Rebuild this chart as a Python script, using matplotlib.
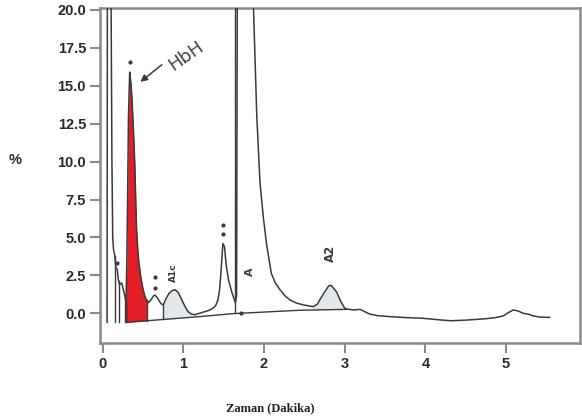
import numpy as np
import matplotlib
matplotlib.use("Agg")
import matplotlib.pyplot as plt

# chromatogram trace (time in minutes, signal in %); values > 20 run off the top
trace_x = [0.055, 0.06, 0.10, 0.105, 0.115, 0.125, 0.135, 0.15, 0.165, 0.18,
           0.195, 0.21, 0.235, 0.255, 0.276, 0.29, 0.30, 0.31, 0.32, 0.335,
           0.35, 0.365, 0.38, 0.39, 0.40, 0.41, 0.42, 0.435, 0.45, 0.475,
           0.50, 0.525, 0.545, 0.57, 0.60, 0.63, 0.65, 0.68, 0.72, 0.75,
           0.78, 0.82, 0.86, 0.90, 0.94, 0.98, 1.02, 1.06, 1.10, 1.14,
           1.20, 1.26, 1.32, 1.37, 1.40, 1.43, 1.45, 1.47, 1.49, 1.51,
           1.53, 1.56, 1.60, 1.645, 1.66, 1.672, 1.86, 1.87, 1.91, 1.95,
           1.99, 2.03, 2.09, 2.14, 2.20, 2.26, 2.32, 2.40, 2.49, 2.61,
           2.66, 2.69, 2.75, 2.80, 2.83, 2.87, 2.90, 2.95, 3.00, 3.05,
           3.12, 3.19, 3.25, 3.31, 3.40, 3.56, 3.75, 3.97, 4.15, 4.31,
           4.50, 4.72, 4.85, 4.96, 5.03, 5.09, 5.15, 5.21, 5.27, 5.34,
           5.42, 5.54]
trace_y = [-0.6, 30, 30, 20, 10, 5.0, 4.2, 3.8, 3.0, 2.9,
           2.2, 1.9, 2.0, 1.6, 1.1, 0.8, 3.6, 8.0, 13.0, 15.9,
           15.2, 14.0, 12.2, 11.0, 9.5, 7.5, 5.6, 4.2, 3.3, 2.3,
           1.6, 1.1, 0.85, 0.7, 0.9, 1.15, 1.2, 1.0, 0.65, 0.55,
           0.9, 1.3, 1.5, 1.55, 1.35, 0.9, 0.45, 0.1, -0.05, -0.1,
           0.0, 0.1, 0.2, 0.35, 0.5, 0.9, 1.6, 3.0, 4.6, 4.4,
           3.2, 2.2, 1.4, 0.7, 1.2, 30, 30, 20, 13, 8.6,
           6.4, 4.6, 2.64, 2.0, 1.54, 1.15, 0.88, 0.68, 0.55, 0.44,
           0.6, 0.88, 1.4, 1.8, 1.85, 1.6, 1.4, 0.8, 0.33, 0.26,
           0.22, 0.26, 0.1, -0.05, -0.15, -0.22, -0.28, -0.33, -0.42, -0.49,
           -0.45, -0.37, -0.3, -0.18, 0.05, 0.22, 0.15, 0.0, -0.05, -0.18,
           -0.25, -0.27]

# integration baseline
base_x = [0.05, 0.29, 1.20, 1.62, 2.44, 3.02]
base_y = [-0.6, -0.6, -0.22, -0.02, 0.2, 0.26]

# peak drop lines and shaded peak windows
drop_x = [0.15, 0.20, 0.276, 0.29, 0.545, 0.75]
hbh_window = (0.29, 0.545)
grey_windows = [(0.75, 1.10), (2.60, 3.02)]

# peak marks (small dots printed above peaks)
mark_x = [0.335, 0.18, 0.65, 0.65, 1.49, 1.49, 1.72]
mark_y = [16.6, 3.3, 2.4, 1.7, 5.8, 5.2, 0.0]

x_ticks = [0, 1, 2, 3, 4, 5]
y_ticks = [0.0, 2.5, 5.0, 7.5, 10.0, 12.5, 15.0, 17.5, 20.0]

line_c = "#3a3a3a"
spine_c = "#8a8a8a"

fig = plt.figure(figsize=(5.82, 4.18), dpi=100)
ax = fig.add_axes([0.1718, 0.1801, 0.8247, 0.8007])

xx = np.linspace(0, 5.6, 4000)
tr = np.interp(xx, trace_x, trace_y)
bl = np.interp(xx, base_x, base_y)

m = (xx >= hbh_window[0]) & (xx <= hbh_window[1])
ax.fill_between(xx[m], bl[m], tr[m], color="#e41e26", lw=0, zorder=1)
for a, b in grey_windows:
    m = (xx >= a) & (xx <= b)
    ax.fill_between(xx[m], bl[m], tr[m], color="#e2e7ec", lw=0, zorder=1)

ax.plot(trace_x, trace_y, color=line_c, lw=1.1, zorder=3)
ax.plot(base_x[1:], base_y[1:], color=line_c, lw=1.0, zorder=3)
for d in drop_x:
    ax.plot([d, d], [np.interp(d, base_x, base_y), np.interp(d, trace_x, trace_y)],
            color=line_c, lw=1.0, zorder=3)
# event marker at start of the A peak
ax.plot([1.645, 1.645], [np.interp(1.645, base_x, base_y), 30], color=line_c, lw=1.0, zorder=3)
ax.plot(mark_x, mark_y, ls="none", marker="o", ms=2, color=line_c, zorder=4)

ax.text(0.875, 2.7, "A1c", rotation=90, fontsize=6.5, ha="center", va="center",
        color=line_c, fontweight="bold")
ax.text(1.83, 2.75, "A", rotation=90, fontsize=8, ha="center", va="center",
        color=line_c, fontweight="bold")
ax.text(2.82, 3.95, "A2", rotation=90, fontsize=8.5, ha="center", va="center",
        color=line_c, fontweight="bold")
ax.text(1.03, 16.95, "HbH", rotation=35, fontsize=13, ha="center", va="center",
        color="#444444")
ax.annotate("", xy=(0.44, 15.15), xytext=(0.76, 16.5),
            arrowprops=dict(arrowstyle="-|>", color=line_c, lw=1.1, mutation_scale=10))

ax.set_xlim(-0.033, 5.915)
ax.set_ylim(-1.94, 20.13)
ax.set_xticks(x_ticks)
ax.set_yticks(y_ticks)
ax.set_yticklabels([f"{v:.1f}" for v in y_ticks])
for s in ax.spines.values():
    s.set_color(spine_c)
    s.set_linewidth(1.8)
ax.tick_params(length=7, width=1.5, color=spine_c, labelcolor="#2a2a2a", pad=3)
for lab in ax.get_xticklabels() + ax.get_yticklabels():
    lab.set_fontfamily("Liberation Sans")
    lab.set_fontweight("bold")
    lab.set_fontsize(10.5)
# the "6" label is cut by the figure edge
ax.text(6.0, -0.035, "6", transform=ax.get_xaxis_transform(), ha="center", va="top",
        fontfamily="Liberation Sans", fontweight="bold", fontsize=10.5, color="#2a2a2a",
        clip_on=False)

fig.text(15 / 582, 1 - 160 / 418, "%", fontfamily="Liberation Sans", fontweight="bold",
         fontsize=10.5, ha="center", va="center", color="#2a2a2a")
fig.text(270 / 582, 1 - 408 / 418, "Zaman (Dakika)", fontfamily="Liberation Serif",
         fontweight="bold", fontsize=9, ha="center", va="center", color="#222222")

fig.savefig("out.png", dpi=100)
